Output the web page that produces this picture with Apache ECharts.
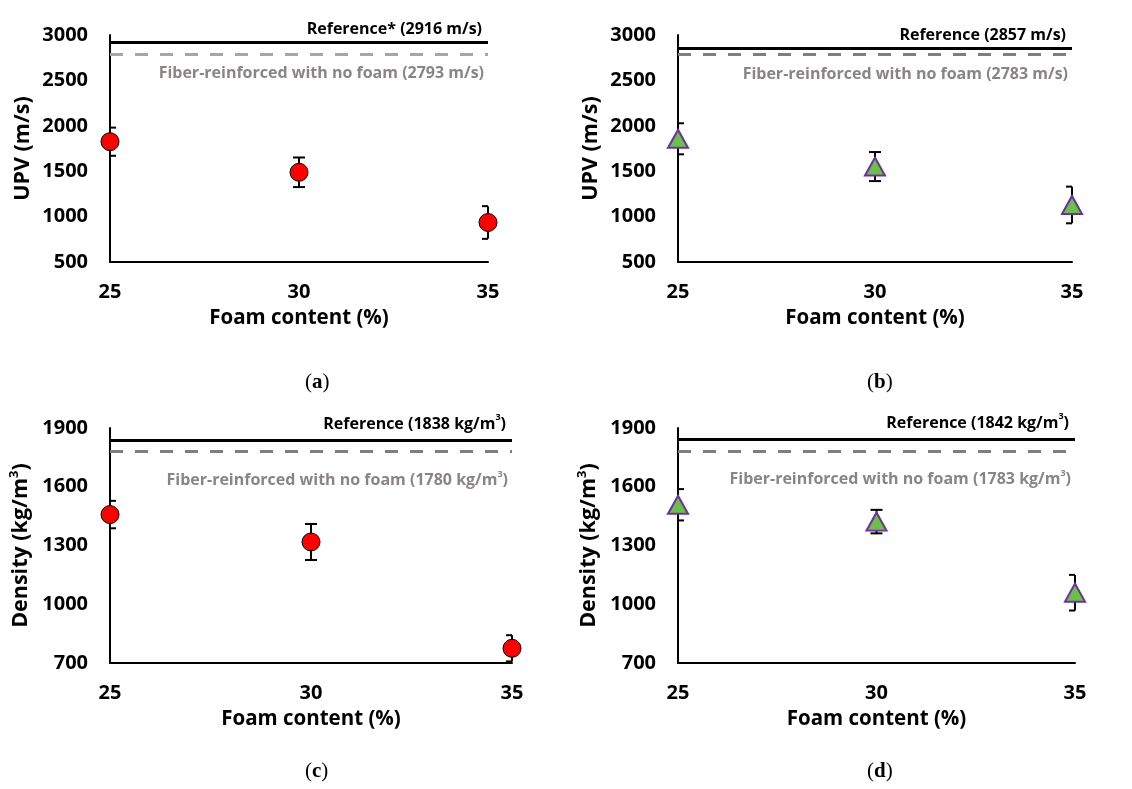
<!DOCTYPE html>
<html>
<head>
<meta charset="utf-8">
<script src="https://cdn.jsdelivr.net/npm/echarts@6/dist/echarts.min.js"></script>
<style>
html,body{margin:0;padding:0;background:#fff;}
#c{width:1132px;height:789px;}
</style>
</head>
<body>
<div id="c"></div>
<script>
// ---- data ----
const foam = [25, 30, 35];
const upvA = [1825, 1488, 935];
const errA = [155, 163, 180];
const upvB = [1857, 1551, 1128];
const errB = [171, 160, 202];
const denC = [1458, 1318, 775];
const errC = [70, 92, 67];
const denD = [1508, 1422, 1059];
const errD = [80, 60, 91];
const refVals = [2916, 2857, 1838, 1842];
const noFoamVals = [2793, 2783, 1780, 1783];
const refLabels = ['Reference* (2916 m/s)', 'Reference (2857 m/s)', '{a|Reference (1838 kg/m}{s|3}{a|)}', '{a|Reference (1842 kg/m}{s|3}{a|)}'];
const noFoamLabels = ['Fiber-reinforced with no foam (2793 m/s)', 'Fiber-reinforced with no foam (2783 m/s)', '{a|Fiber-reinforced with no foam (1780 kg/m}{s|3}{a|)}', '{a|Fiber-reinforced with no foam (1783 kg/m}{s|3}{a|)}'];
const xTicks = {min: 25, max: 35, interval: 5};
const yUPV = {min: 500, max: 3000, interval: 500};
const yDen = {min: 700, max: 1900, interval: 300};
const yNames = ['UPV (m/s)', 'UPV (m/s)', 'Density (kg/m{s|3})', 'Density (kg/m{s|3})'];
const xName = 'Foam content (%)';
const panelLabels = ['a', 'b', 'c', 'd'];

const FONT = 'Open Sans';
const panels = [
  {vals: upvA, errs: errA, y: yUPV, grid: {left: 110, top: 35, width: 378, height: 227}, marker: 'circle', dash: '#a6a6a6'},
  {vals: upvB, errs: errB, y: yUPV, grid: {left: 678, top: 35, width: 394, height: 227}, marker: 'triangle', dash: '#7f7f7f'},
  {vals: denC, errs: errC, y: yDen, grid: {left: 110, top: 428, width: 402, height: 235}, marker: 'circle', dash: '#7f7f7f'},
  {vals: denD, errs: errD, y: yDen, grid: {left: 678, top: 428, width: 397, height: 235}, marker: 'triangle', dash: '#7f7f7f'}
];

const chart = echarts.init(document.getElementById('c'), null, {renderer: 'canvas'});

const grids = [], xAxes = [], yAxes = [], series = [];
const axisLine = {show: true, onZero: false, lineStyle: {color: '#000', width: 2}};
const refTextRich = (color) => ({
  a: {fontFamily: FONT, fontWeight: 'bold', fontSize: 16, color: color, lineHeight: 22},
  s: {fontFamily: FONT, fontWeight: 'bold', fontSize: 9, color: color, verticalAlign: 'top', lineHeight: 22}
});
const plain = (v) => String(v);

panels.forEach((p, i) => {
  grids.push(Object.assign({}, p.grid));
  xAxes.push({
    gridIndex: i, type: 'value', min: xTicks.min, max: xTicks.max, interval: xTicks.interval,
    axisLine: axisLine, axisTick: {show: false}, splitLine: {show: false},
    axisLabel: {fontFamily: FONT, fontWeight: 'bold', fontSize: 20, color: '#000', margin: 20, formatter: plain},
    name: xName, nameLocation: 'middle', nameGap: 46,
    nameTextStyle: {fontFamily: FONT, fontWeight: 'bold', fontSize: 20.5, color: '#000'}
  });
  yAxes.push({
    gridIndex: i, type: 'value', min: p.y.min, max: p.y.max, interval: p.y.interval,
    axisLine: axisLine, axisTick: {show: false}, splitLine: {show: false},
    axisLabel: {fontFamily: FONT, fontWeight: 'bold', fontSize: 20, color: '#000', margin: 22, formatter: plain},
    name: yNames[i], nameLocation: 'middle', nameGap: 76,
    nameTextStyle: {fontFamily: FONT, fontWeight: 'bold', fontSize: 21.5, color: '#000',
      rich: {s: {fontFamily: FONT, fontWeight: 'bold', fontSize: 13, color: '#000', verticalAlign: 'top', lineHeight: 26}}}
  });
  // error bars
  series.push({
    type: 'custom', xAxisIndex: i, yAxisIndex: i, z: 3,
    data: foam.map((f, k) => [f, p.vals[k], p.errs[k]]),
    encode: {x: 0, y: 1},
    renderItem: function (params, api) {
      const x = api.value(0), y = api.value(1), e = api.value(2);
      const top = api.coord([x, y + e]);
      const bot = api.coord([x, y - e]);
      const cs = params.coordSys;
      const xl = Math.max(cs.x, top[0] - 6), xr = Math.min(cs.x + cs.width, top[0] + 6);
      const yb = Math.min(bot[1], cs.y + cs.height);
      const st = {stroke: '#000', lineWidth: 2};
      const children = [
        {type: 'line', shape: {x1: top[0], y1: top[1], x2: top[0], y2: yb}, style: st},
        {type: 'line', shape: {x1: xl, y1: top[1], x2: xr, y2: top[1]}, style: st}
      ];
      if (bot[1] <= cs.y + cs.height) {
        children.push({type: 'line', shape: {x1: xl, y1: bot[1], x2: xr, y2: bot[1]}, style: st});
      }
      return {type: 'group', children: children};
    }
  });
  // markers + reference lines
  const isTri = p.marker === 'triangle';
  series.push({
    type: 'scatter', xAxisIndex: i, yAxisIndex: i, z: 4, clip: false,
    data: foam.map((f, k) => [f, p.vals[k]]),
    symbol: p.marker,
    symbolSize: isTri ? [20, 18] : 18,
    itemStyle: isTri ? {color: '#6cc04a', borderColor: '#7030a0', borderWidth: 2, opacity: 1}
                     : {color: '#ff0000', borderColor: '#000', borderWidth: 1, opacity: 1},
    markLine: {
      silent: true, symbol: 'none', animation: false,
      data: [
        {yAxis: refVals[i], lineStyle: {color: '#000', width: 3, type: 'solid'},
         label: {show: true, position: 'insideEndTop', distance: [6, 5], formatter: refLabels[i],
           fontFamily: FONT, fontWeight: 'bold', fontSize: 16, color: '#000', rich: refTextRich('#000')}},
        {yAxis: noFoamVals[i], lineStyle: {color: p.dash, width: 3, type: [13, 12]},
         label: {show: true, position: 'insideEndBottom', distance: [4, i >= 2 ? 18 : 12], formatter: noFoamLabels[i],
           fontFamily: FONT, fontWeight: 'bold', fontSize: 16, color: '#8a8585', rich: refTextRich('#8a8585')}}
      ]
    }
  });
});

const subLabel = (letter, x, y) => ({
  type: 'text', left: x, top: y,
  style: {
    text: '{p|(}{b|' + letter + '}{p|)}',
    rich: {
      p: {fontFamily: 'Liberation Serif', fontSize: 21, fill: '#000'},
      b: {fontFamily: 'Liberation Serif', fontSize: 21, fontWeight: 'bold', fill: '#000'}
    }
  }
});

chart.setOption({
  animation: false,
  backgroundColor: '#fff',
  grid: grids, xAxis: xAxes, yAxis: yAxes, series: series,
  graphic: [
    subLabel(panelLabels[0], 305, 372),
    subLabel(panelLabels[1], 867, 372),
    subLabel(panelLabels[2], 305, 761),
    subLabel(panelLabels[3], 867, 761)
  ]
});
</script>
</body>
</html>
